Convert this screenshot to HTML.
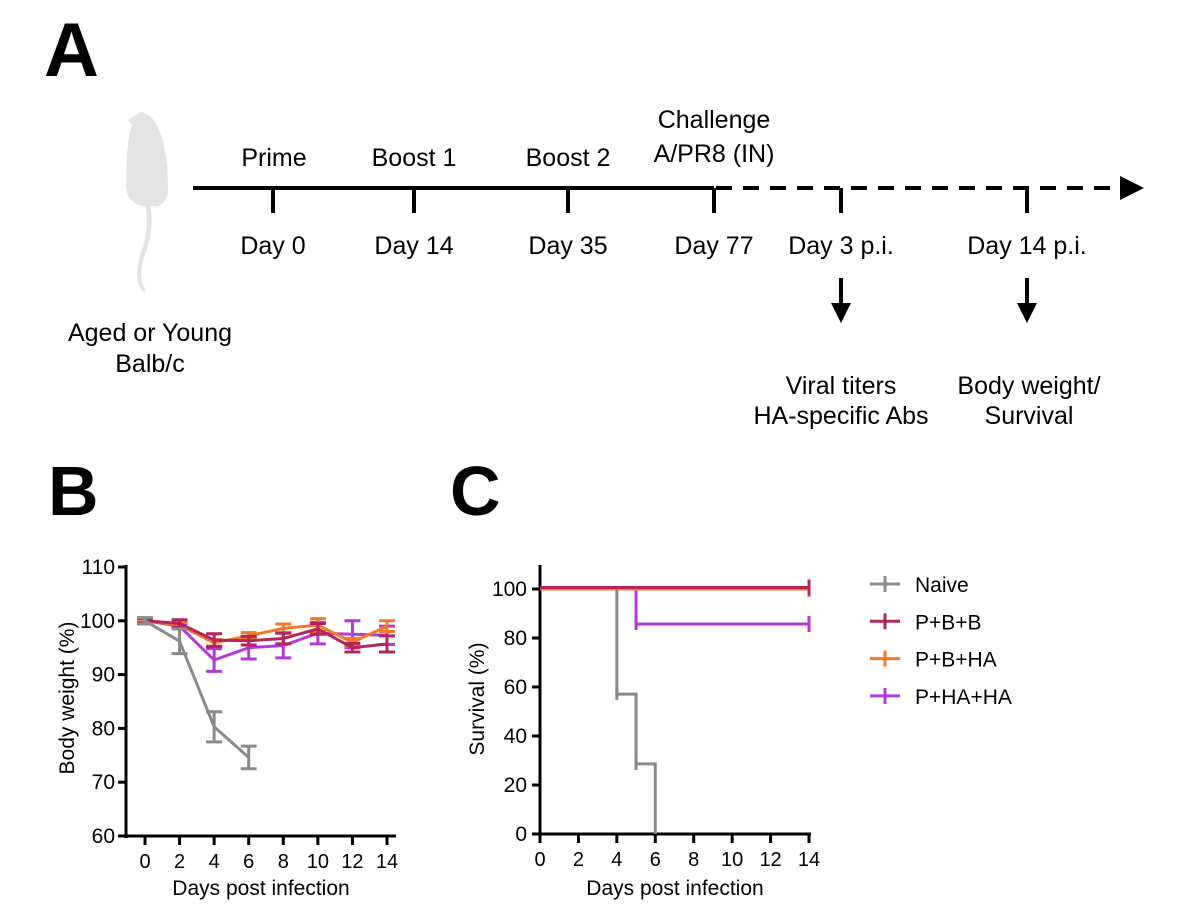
<!DOCTYPE html>
<html><head><meta charset="utf-8"><style>
body{margin:0;background:#fff;}
svg{display:block;font-family:"Liberation Sans",Arial,sans-serif;}
</style></head><body>
<svg id="fig" width="1200" height="918" viewBox="0 0 1200 918" xmlns="http://www.w3.org/2000/svg">
<g>
<text x="44" y="76" font-size="76" font-weight="bold">A</text>
<g fill="#e3e3e3">
<path d="M141,112 L150,116 C164,130 168,160 168,190 C168,200 160,208 154,206 L150,206 C138,208 126,200 126,186 C126,160 128,135 132,125 L128,120 Z"/>
<path d="M150,204 C154,225 150,240 145,255 C140,270 140,282 146,290 L143,292 C135,282 136,268 141,253 C146,238 149,222 145,204 Z"/>
</g>
<line x1="193" y1="188" x2="714" y2="188" stroke="#000" stroke-width="4"/>
<line x1="716" y1="188" x2="1122" y2="188" stroke="#000" stroke-width="4" stroke-dasharray="16,11"/>
<polygon points="1120,176 1144,188 1120,200" fill="#000"/>
<g stroke="#000" stroke-width="4">
<line x1="273" y1="188" x2="273" y2="213"/><line x1="414" y1="188" x2="414" y2="213"/><line x1="568" y1="188" x2="568" y2="213"/><line x1="714" y1="188" x2="714" y2="213"/><line x1="841" y1="188" x2="841" y2="213"/><line x1="1027" y1="188" x2="1027" y2="213"/>
</g>
<g font-size="25" text-anchor="middle" fill="#000">
<text x="274" y="166">Prime</text>
<text x="414" y="166">Boost 1</text>
<text x="568" y="166">Boost 2</text>
<text x="714" y="128">Challenge</text>
<text x="714" y="162">A/PR8 (IN)</text>
<text x="273" y="254">Day 0</text>
<text x="414" y="254">Day 14</text>
<text x="568" y="254">Day 35</text>
<text x="714" y="254">Day 77</text>
<text x="841" y="254">Day 3 p.i.</text>
<text x="1027" y="254">Day 14 p.i.</text>
<text x="150" y="341">Aged or Young</text>
<text x="150" y="372">Balb/c</text>
<text x="841" y="394">Viral titers</text>
<text x="841" y="424">HA-specific Abs</text>
<text x="1029" y="394">Body weight/</text>
<text x="1029" y="424">Survival</text>
</g>
<g>
<line x1="841" y1="278" x2="841" y2="305" stroke="#000" stroke-width="4"/><polygon points="831,303 851,303 841,323" fill="#000"/>
<line x1="1027" y1="278" x2="1027" y2="305" stroke="#000" stroke-width="4"/><polygon points="1017,303 1037,303 1027,323" fill="#000"/>
</g>
</g>
<text x="48" y="515" font-size="70" font-weight="bold">B</text>
<text x="450" y="515" font-size="70" font-weight="bold">C</text>
<g id="chartB"></g>
<g id="chartC"></g>
<g id="legend"></g>
</svg>
<script>
const days=[0,2,4,6,8,10,12,14];
const groups=["Naive","P+B+B","P+B+HA","P+HA+HA"];
const colors=["#8a8a8a","#b5245a","#f07a2a","#b33ad6"];
const wNaive=[100,96.2,80.3,74.6];
const eNaive=[0.6,2.3,2.8,2.1];
const wPBB=[100,99.5,96.4,96.3,96.7,98.5,95,95.7];
const ePBB=[0.4,0.7,1.2,0.8,1,1,0.8,1.5];
const wPBHA=[100,99.2,95.9,97.2,98.6,99.2,96,99];
const ePBHA=[0.3,0.5,0.6,0.6,0.8,1.2,0.7,1];
const wPHAHA=[100,99,92.7,95,95.4,97.7,97.5,97.3];
const ePHAHA=[0.4,0.5,2.1,2.1,2.3,2,2.5,1.7];
const yTicksB=[60,70,80,90,100,110];
const xTicks=[0,2,4,6,8,10,12,14];
const sNaiveT=[0,4,5,6];
const sNaiveV=[100,57.1,28.6,0];
const sPBBT=[0];const sPBBV=[100];
const sPBHAT=[0];const sPBHAV=[100];
const sPHAHAT=[0,5];const sPHAHAV=[100,85.7];
const yTicksC=[0,20,40,60,80,100];
const NS="http://www.w3.org/2000/svg";
function mk(parent,tag,attrs,text){const e=document.createElementNS(NS,tag);for(const k in attrs)e.setAttribute(k,attrs[k]);if(text!==undefined)e.textContent=text;parent.appendChild(e);return e;}
const B=document.getElementById('chartB');
const bx=d=>145+(387-145)*d/14, by=v=>836-(v-60)*(836-567)/50;
mk(B,'line',{x1:126,y1:565,x2:126,y2:838,stroke:'#000','stroke-width':3});
mk(B,'line',{x1:125,y1:836,x2:396,y2:836,stroke:'#000','stroke-width':3});
yTicksB.forEach(t=>{mk(B,'line',{x1:118,y1:by(t),x2:126,y2:by(t),stroke:'#000','stroke-width':3});
const tl=mk(B,'text',{x:115,y:by(t)+7,'font-size':21,'text-anchor':'end'},t);

});
xTicks.forEach(t=>{mk(B,'line',{x1:bx(t),y1:836,x2:bx(t),y2:845,stroke:'#000','stroke-width':3});
const tl=mk(B,'text',{x:bx(t),y:868,'font-size':20,'text-anchor':'middle'},t);

});
const ylb=mk(B,'text',{x:0,y:0,'font-size':21,'text-anchor':'middle',transform:'translate(74,698) rotate(-90)'},'Body weight (%)');


const xlb=mk(B,'text',{x:261,y:895,'font-size':21,'text-anchor':'middle'},'Days post infection');


const series=[[wNaive,eNaive],[wPBB,ePBB],[wPBHA,ePBHA],[wPHAHA,ePHAHA]];
[3,2,1,0].forEach(i=>{const [v,e]=series[i];const g=mk(B,'g',{});


mk(g,'polyline',{points:v.map((y,j)=>bx(days[j])+','+by(y)).join(' '),fill:'none',stroke:colors[i],'stroke-width':3});
v.forEach((y,j)=>{const x=bx(days[j]);mk(g,'path',{d:`M${x},${by(y-e[j])}V${by(y+e[j])}M${x-8},${by(y-e[j])}H${x+8}M${x-8},${by(y+e[j])}H${x+8}`,stroke:colors[i],'stroke-width':3,fill:'none'});});});
const C=document.getElementById('chartC');
const cx=d=>540+(809-540)*d/14, cy=v=>834-v*(834-589)/100;
mk(C,'line',{x1:540,y1:565,x2:540,y2:836,stroke:'#000','stroke-width':3});
mk(C,'line',{x1:539,y1:834,x2:811,y2:834,stroke:'#000','stroke-width':3});
yTicksC.forEach(t=>{mk(C,'line',{x1:532,y1:cy(t),x2:540,y2:cy(t),stroke:'#000','stroke-width':3});
const tl=mk(C,'text',{x:527,y:cy(t)+7,'font-size':21,'text-anchor':'end'},t);

});
xTicks.forEach(t=>{mk(C,'line',{x1:cx(t),y1:834,x2:cx(t),y2:843,stroke:'#000','stroke-width':3});
const tl=mk(C,'text',{x:cx(t),y:866,'font-size':20,'text-anchor':'middle'},t);

});
const ylc=mk(C,'text',{x:0,y:0,'font-size':21,'text-anchor':'middle',transform:'translate(484,699) rotate(-90)'},'Survival (%)');


const xlc=mk(C,'text',{x:675,y:895,'font-size':21,'text-anchor':'middle'},'Days post infection');


const surv=[[sNaiveT,sNaiveV],[sPBBT,sPBBV],[sPBHAT,sPBHAV],[sPHAHAT,sPHAHAV]];
const off=[0,-1.5,0,0];
[0,3,2,1].forEach(i=>{const [T,V]=surv[i];const g=mk(C,'g',{});


let d=`M${cx(T[0])},${cy(V[0])+off[i]}`;
for(let j=1;j<T.length;j++){d+=`H${cx(T[j])}V${cy(V[j])+off[i]}`;}
const last=V[V.length-1];
if(last>0){d+=`H${cx(14)}`;}
mk(g,'path',{d:d,fill:'none',stroke:colors[i],'stroke-width':3});
for(let j=1;j<T.length;j++){if(V[j]>0)mk(g,'line',{x1:cx(T[j]),y1:cy(V[j])-6,x2:cx(T[j]),y2:cy(V[j])+6,stroke:colors[i],'stroke-width':3});}
if(last>0)mk(g,'line',{x1:cx(14),y1:cy(last)+off[i]-8,x2:cx(14),y2:cy(last)+off[i]+8,stroke:colors[i],'stroke-width':3});});
const L=document.getElementById('legend');
groups.forEach((n,i)=>{const y=584+i*37.3;const g=mk(L,'g',{});


mk(g,'line',{x1:870,y1:y,x2:900,y2:y,stroke:colors[i],'stroke-width':3});
mk(g,'line',{x1:885,y1:y-8,x2:885,y2:y+8,stroke:colors[i],'stroke-width':3});
mk(g,'text',{x:915,y:y+8,'font-size':21},n);});
</script>
</body></html>
